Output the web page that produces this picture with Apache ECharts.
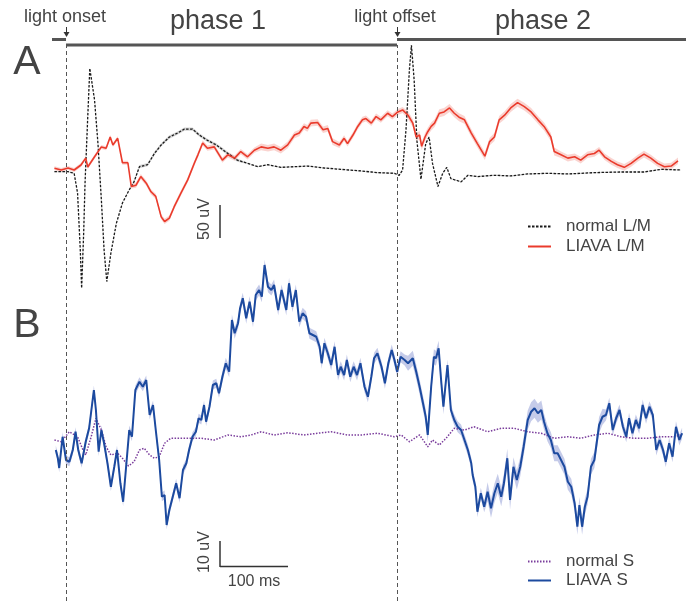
<!DOCTYPE html>
<html>
<head>
<meta charset="utf-8">
<style type="text/css">
html, body {margin: 0; padding: 0; background: #fff}
#chart {width: 686px; height: 601px}
</style>
</head>
<body>
<div id="chart"></div>
<script src="https://cdn.jsdelivr.net/npm/echarts@6/dist/echarts.min.js"></script>
<script type="text/javascript">
// time in ms from light onset, amplitude in uV
var T_ONSET = 0;
var T_OFFSET = 487;

// panel A, L/M cone response
var normalLM = [
    [-17,-2.6],[3,-2.6],[12,-5],[17,-35],[21,-121],[23,-179],[26,-95],[28,-20],[32,81],[35,154],
    [42,106],[47,40],[52,-45],[56,-121],[60,-169],[66,-126],[74,-81],[83,-50],[93,-30],[100,-18],
    [108,5],[120,8],[130,25],[140,38],[152,50],[164,56],[174,62],[186,62],[196,53],[208,45],
    [221,38],[238,25],[252,15],[267,10],[282,5],[297,8],[316,4],[336,5],[355,6],[380,3],
    [404,1],[429,-1],[449,-3],[458,-4],[483,-5],[490,-8],[495,0],[500,61],[505,152],[508,189],
    [512,136],[516,45],[522,-14],[529,40],[534,50],[539,10],[547,-25],[554,-5],[560,4],[566,-13],
    [581,-18],[591,-8],[605,-10],[630,-8],[654,-9],[679,-6],[708,-5],[738,-6],[777,-4],[816,-3],
    [850,-3],[875,1],[904,0]
];
var liavaLM = [
    [-17,2.6],[-7,0],[3,3],[12,0],[22,7.6],[29,18],[32,4.5],[42,20],[52,35],[59,33],
    [65,50],[69,38],[76,48],[83,11],[91,11],[96,-25],[103,-23],[110,-10],[118,-20],[125,-33],
    [132,-40],[140,-71],[145,-78],[152,-73],[159,-56],[169,-35],[179,-15],[189,11],[194,23],[201,41],
    [208,33],[218,35],[230,15],[238,23],[248,18],[257,28],[267,20],[277,30],[287,35],[297,33],
    [306,35],[316,30],[326,38],[336,53],[343,56],[350,66],[355,63],[360,71],[370,72],[378,61],
    [385,63],[392,43],[402,38],[409,48],[414,40],[422,53],[429,66],[436,76],[441,78],[449,71],
    [456,81],[463,76],[473,86],[480,81],[488,88],[495,91],[503,83],[510,71],[515,50],[520,53],
    [523,36],[528,50],[532,58],[537,66],[542,71],[549,86],[556,88],[564,94],[571,86],[578,80],
    [586,76],[596,56],[605,40],[616,21],[623,43],[630,50],[637,76],[645,83],[654,94],[664,102],
    [674,96],[684,88],[694,76],[703,66],[713,50],[718,28],[728,23],[738,18],[748,20],[757,15],
    [767,23],[777,25],[784,30],[792,20],[802,13],[811,8],[821,4],[831,10],[841,18],[850,24],
    [860,18],[870,10],[880,5],[890,6],[900,14]
];

// panel B, S cone response
var normalS = [
    [-17,-1.2],[-7,-1.9],[5,2.1],[17,0.1],[25,-5.2],[29,-7.2],[37,0.1],[44,7.5],[52,2.8],[59,-3.9],
    [66,-7.2],[76,-6.5],[83,-8.5],[92,-11.6],[100,-9.9],[108,-5.2],[115,-4.5],[123,-7.2],[130,-8.5],[137,-7.9],
    [145,-2.5],[154,-0.5],[169,-0.5],[184,-0.5],[199,-0.5],[218,-1.2],[238,0.8],[257,0.1],[272,0.8],[287,2.1],
    [306,0.8],[326,1.7],[350,0.8],[370,1.5],[390,2.1],[414,0.8],[434,0.8],[458,1.5],[483,0.1],[493,0.8],
    [505,-1.9],[520,0.8],[532,-3.9],[539,-1.2],[549,-3.2],[559,-0.5],[571,3.5],[586,2.8],[600,4.1],[620,2.1],
    [640,3.5],[659,3.5],[679,2.1],[699,1.5],[718,-0.5],[738,0.1],[757,-0.5],[777,0.8],[797,1.5],[816,0.1],
    [836,-0.5],[855,-0.5],[875,0.1],[895,0.1],[904,0.8]
];
var liavaS = [
    [-15,-5.2],[-12,-8.4],[-10,-12.4],[-5,0.1],[0,-9.2],[5,-9.9],[10,-5.2],[14,2.1],[18,-5.2],[23,-10.5],
    [29,-1.9],[34,3.5],[41,18.8],[44,10.8],[48,-5.9],[52,2.8],[56,-2.5],[61,-10.5],[66,-19.9],[71,-11.9],
    [75,-5.2],[80,-18.5],[84,-25.9],[88,-13.2],[93,2.8],[97,0.1],[102,18.8],[108,22.1],[113,20.1],[118,22.8],
    [123,8.8],[128,12.8],[132,2.8],[137,-9.2],[141,-23.9],[145,-23.2],[148,-35.2],[152,-29.2],[157,-23.9],[162,-18.5],
    [167,-24.5],[172,-13.2],[177,-10.5],[181,-5.2],[186,0.1],[191,2.1],[195,7.5],[199,6.8],[203,12.8],[206,6.1],
    [211,12.1],[216,20.8],[221,21.5],[225,17.5],[230,24.1],[235,29.5],[240,26.1],[244,46.8],[248,41.5],[253,45.5],
    [256,51.5],[260,55.5],[265,47.5],[270,54.1],[275,46.1],[279,56.8],[284,58.8],[288,56.1],[292,68.8],[297,60.1],
    [302,58.8],[306,60.8],[312,50.8],[317,58.8],[324,50.8],[328,61.5],[333,52.1],[338,58.8],[343,46.1],[348,49.5],
    [353,48.1],[358,41.5],[363,40.8],[368,40.1],[373,36.1],[376,29.5],[380,37.5],[385,33.5],[390,28.8],[395,36.1],
    [400,24.8],[404,28.1],[409,24.8],[413,30.8],[418,24.1],[423,28.1],[428,24.8],[433,29.5],[439,20.1],[444,16.1],
    [449,24.1],[453,31.5],[458,33.5],[464,28.1],[469,21.5],[474,29.5],[479,34.8],[483,30.8],[487,26.1],[492,32.1],
    [498,30.8],[503,29.5],[510,31.5],[515,26.1],[520,20.1],[525,13.5],[529,8.1],[532,0.8],[537,20.1],[541,32.1],
    [544,31.5],[548,35.5],[552,21.5],[555,12.1],[561,28.8],[566,10.8],[571,6.8],[576,4.1],[581,2.8],[586,-1.2],
    [591,-5.2],[596,-10.5],[598,-15.2],[602,-19.9],[605,-29.9],[610,-22.5],[615,-27.9],[620,-21.9],[625,-28.5],[630,-22.5],
    [635,-18.5],[640,-23.9],[644,-18.5],[649,-8.5],[653,-25.2],[658,-11.9],[663,-17.2],[668,-11.9],[673,-3.9],[679,6.8],
    [684,10.1],[689,11.5],[694,9.5],[699,10.8],[703,6.1],[708,1.5],[713,-1.2],[718,-6.5],[723,-6.5],[728,-9.2],
    [733,-11.9],[738,-17.9],[743,-19.9],[748,-26.5],[752,-35.9],[755,-27.2],[759,-35.9],[763,-27.9],[767,-23.9],[772,-11.9],
    [777,-9.2],[781,-1.2],[784,4.8],[789,8.1],[794,8.8],[799,13.5],[804,2.8],[809,7.5],[814,10.8],[819,4.1],
    [824,0.1],[828,7.5],[833,1.5],[838,6.8],[843,3.5],[848,12.8],[853,7.5],[858,12.1],[863,8.8],[868,-5.2],
    [873,-1.2],[878,-5.2],[882,-9.9],[887,-2.5],[892,-7.9],[897,4.1],[902,-1.2],[906,1.5]
];

// s.e.m. half-widths read per time span: [from, to, uV]
var normalLMSem = [[-20,100,0.8],[100,260,2.5],[260,905,0.8]];
var liavaLMSem = [[-20,100,3],[100,280,4],[280,400,5],[400,500,4.5],[500,720,6],[720,905,5]];
var liavaSSem = [[-20,230,1.8],[230,330,2.2],[330,500,2.2],[500,560,3],[560,620,2.2],[620,700,3.8],[700,790,3.2],[790,905,2.2]];

function semAt(table, t) {
    for (var i = 0; i < table.length; i++) {
        if (t >= table[i][0] && t < table[i][1]) return table[i][2];
    }
    return table[table.length - 1][2];
}

function band(points, sem, xi, color) {
    return {
        type: 'custom',
        xAxisIndex: xi,
        yAxisIndex: xi,
        silent: true,
        z: 1,
        data: [[0, 0]],
        renderItem: function (params, api) {
            var upper = [], lower = [];
            points.forEach(function (p) {
                var s = semAt(sem, p[0]);
                upper.push(api.coord([p[0], p[1] + s]));
                lower.unshift(api.coord([p[0], p[1] - s]));
            });
            return {
                type: 'polygon',
                shape: {points: upper.concat(lower)},
                style: {fill: color}
            };
        }
    };
}

var chart = echarts.init(document.getElementById('chart'));
var FONT = '"Liberation Sans", Arial, sans-serif';
var INK = '#444';
var BAR = '#555';

var xBase = {type: 'value', min: -20, max: 905, show: false};

option = {
    animation: false,
    grid: [
        {left: 52.4, top: 38, width: 629, height: 264},
        {left: 52.4, top: 237, width: 629, height: 350},
        {left: 52.4, top: 45, width: 629, height: 556}
    ],
    xAxis: [
        Object.assign({gridIndex: 0}, xBase),
        Object.assign({gridIndex: 1}, xBase),
        Object.assign({gridIndex: 2}, xBase)
    ],
    yAxis: [
        {type: 'value', gridIndex: 0, min: -200, max: 200, show: false},
        {type: 'value', gridIndex: 1, min: -60, max: 80, show: false},
        {type: 'value', gridIndex: 2, min: 0, max: 1, show: false}
    ],
    legend: [
        {
            data: ['normal L/M', 'LIAVA L/M'],
            orient: 'vertical', left: 522, top: 213,
            itemWidth: 23, itemHeight: 12, itemGap: 3,
            selectedMode: false,
            itemStyle: {opacity: 0},
            textStyle: {fontSize: 17, color: INK, fontFamily: FONT, padding: [0, 0, 0, 10]}
        },
        {
            data: ['normal S', 'LIAVA S'],
            orient: 'vertical', left: 522, top: 548,
            itemWidth: 23, itemHeight: 12, itemGap: 2,
            selectedMode: false,
            itemStyle: {opacity: 0},
            textStyle: {fontSize: 17, color: INK, fontFamily: FONT, padding: [0, 0, 0, 10]}
        }
    ],
    series: [
        {
            type: 'line', xAxisIndex: 2, yAxisIndex: 2, data: [], silent: true,
            markLine: {
                symbol: 'none', silent: true, label: {show: false},
                lineStyle: {color: '#555', type: [4, 3], width: 1},
                data: [{xAxis: T_ONSET}, {xAxis: T_OFFSET}]
            }
        },
        band(normalLM, normalLMSem, 0, 'rgba(120,120,120,0.3)'),
        band(liavaLM, liavaLMSem, 0, 'rgba(240,120,110,0.32)'),
        band(liavaS, liavaSSem, 1, 'rgba(110,125,200,0.4)'),
        {
            name: 'normal L/M', type: 'line', xAxisIndex: 0, yAxisIndex: 0,
            data: normalLM, symbol: 'none', z: 3,
            lineStyle: {color: '#1a1a1a', width: 1.3, type: [2.5, 1.5]},
            itemStyle: {color: '#1a1a1a'}
        },
        {
            name: 'LIAVA L/M', type: 'line', xAxisIndex: 0, yAxisIndex: 0,
            data: liavaLM, symbol: 'none', z: 4,
            lineStyle: {color: '#ea3b2c', width: 1.6},
            itemStyle: {color: '#ea3b2c'}
        },
        {
            name: 'normal S', type: 'line', xAxisIndex: 1, yAxisIndex: 1,
            data: normalS, symbol: 'none', z: 3,
            lineStyle: {color: '#7a3d9c', width: 1.5, type: [1.5, 1.5]},
            itemStyle: {color: '#7a3d9c'}
        },
        {
            name: 'LIAVA S', type: 'line', xAxisIndex: 1, yAxisIndex: 1,
            data: liavaS, symbol: 'none', z: 4,
            lineStyle: {color: '#1c4a9f', width: 2},
            itemStyle: {color: '#1c4a9f'}
        }
    ],
    graphic: [
        // phase bars
        {type: 'line', shape: {x1: 52, y1: 39.5, x2: 66, y2: 39.5}, style: {stroke: BAR, lineWidth: 3}},
        {type: 'line', shape: {x1: 66, y1: 45, x2: 397, y2: 45}, style: {stroke: BAR, lineWidth: 3}},
        {type: 'line', shape: {x1: 397, y1: 39.5, x2: 686, y2: 39.5}, style: {stroke: BAR, lineWidth: 3}},
        // arrows
        {type: 'line', shape: {x1: 66.5, y1: 27, x2: 66.5, y2: 35}, style: {stroke: '#333', lineWidth: 1}},
        {type: 'polygon', shape: {points: [[63.5, 32], [69.5, 32], [66.5, 37]]}, style: {fill: '#333'}},
        {type: 'line', shape: {x1: 397.5, y1: 27, x2: 397.5, y2: 35}, style: {stroke: '#333', lineWidth: 1}},
        {type: 'polygon', shape: {points: [[394.5, 32], [400.5, 32], [397.5, 37]]}, style: {fill: '#333'}},
        // labels
        {type: 'text', x: 24, y: 17, style: {text: 'light onset', fontSize: 18, fontFamily: FONT, fill: INK, verticalAlign: 'middle'}},
        {type: 'text', x: 395, y: 17, style: {text: 'light offset', fontSize: 18, fontFamily: FONT, fill: INK, align: 'center', verticalAlign: 'middle'}},
        {type: 'text', x: 218, y: 22, style: {text: 'phase 1', fontSize: 27, fontFamily: FONT, fill: INK, align: 'center', verticalAlign: 'middle'}},
        {type: 'text', x: 543, y: 22, style: {text: 'phase 2', fontSize: 27, fontFamily: FONT, fill: INK, align: 'center', verticalAlign: 'middle'}},
        {type: 'text', x: 27, y: 63, style: {text: 'A', fontSize: 41, fontFamily: FONT, fill: INK, align: 'center', verticalAlign: 'middle'}},
        {type: 'text', x: 27, y: 326, style: {text: 'B', fontSize: 41, fontFamily: FONT, fill: INK, align: 'center', verticalAlign: 'middle'}},
        // scale bars
        {type: 'line', shape: {x1: 220, y1: 205, x2: 220, y2: 238}, style: {stroke: '#333', lineWidth: 1.5}},
        {type: 'text', x: 205, y: 219, rotation: Math.PI / 2, style: {text: '50 uV', fontSize: 16, fontFamily: FONT, fill: INK, align: 'center', verticalAlign: 'middle'}},
        {type: 'line', shape: {x1: 220, y1: 541, x2: 220, y2: 567}, style: {stroke: '#333', lineWidth: 1.5}},
        {type: 'line', shape: {x1: 220, y1: 566.5, x2: 288, y2: 566.5}, style: {stroke: '#333', lineWidth: 1.5}},
        {type: 'text', x: 205, y: 552, rotation: Math.PI / 2, style: {text: '10 uV', fontSize: 16, fontFamily: FONT, fill: INK, align: 'center', verticalAlign: 'middle'}},
        {type: 'text', x: 254, y: 582, style: {text: '100 ms', fontSize: 16, fontFamily: FONT, fill: INK, align: 'center', verticalAlign: 'middle'}}
    ]
};

if (option && typeof option === "object") {
    chart.setOption(option, true);
}
</script>
</body>
</html>
